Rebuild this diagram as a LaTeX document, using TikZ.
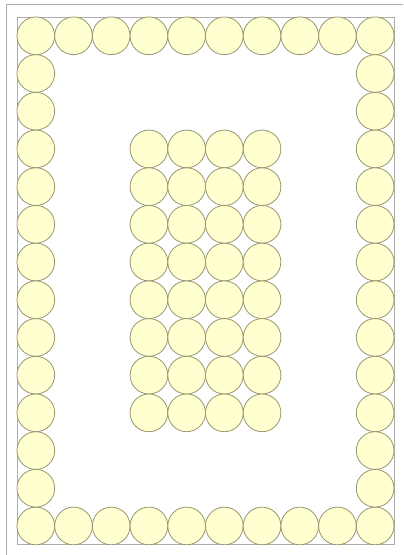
\documentclass[tikz,border=0pt]{standalone}
\usepackage{tikz}

\definecolor{discfill}{RGB}{255,255,208}
\definecolor{discline}{RGB}{150,150,112}
\definecolor{frameline}{RGB}{172,172,172}

\begin{document}
\begin{tikzpicture}[
  disc/.style={circle, draw=discline, fill=discfill, line width=0.6pt,
               minimum size=1cm, inner sep=0pt},
  frame/.style={draw=frameline, line width=0.6pt}
]
\useasboundingbox (-0.45,-0.27) rectangle (10.24,14.45);
\clip (-0.45,-0.27) rectangle (10.24,14.45);

% sheet edge and margin
\draw[frame] (-0.27,-0.8) rectangle (10.8,14.33);
\draw[frame] (0,0) rectangle (10,14);

% ring of discs along the margin
\foreach \i in {0,...,9} {
  \node[disc] (top\i) at (\i+0.5,13.5) {};
  \node[disc] (bot\i) at (\i+0.5,0.5) {};
}
\foreach \j in {1,...,12} {
  \node[disc] (left\j)  at (0.5,13.5-\j) {};
  \node[disc] (right\j) at (9.5,13.5-\j) {};
}

% centre block, 4 x 8
\foreach \c in {0,...,3}
  \foreach \r in {0,...,7}
    \node[disc] (c\c r\r) at (3.5+\c,10.5-\r) {};

\end{tikzpicture}
\end{document}
